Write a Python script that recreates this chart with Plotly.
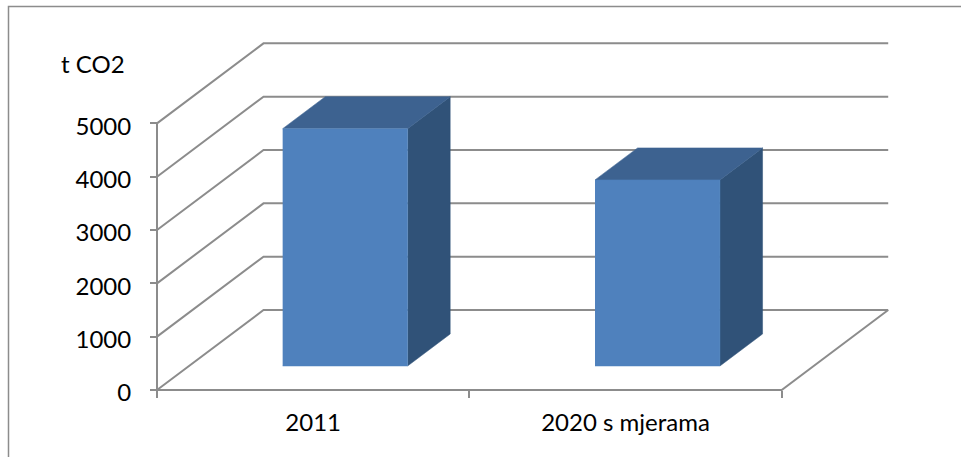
import plotly.graph_objects as go

categories = ["2011", "2020 s mjerama"]
values = [4450, 3490]
y_ticks = [0, 1000, 2000, 3000, 4000, 5000]
series_name = "t CO2"

# oblique projection of the depth axis, in data units
DEPTH_X = 0.341
DEPTH_Y = 1500
BAR_LO, BAR_HI = 0.3, 0.7     # bar extent within a category
DEP_LO, DEP_HI = 0.3, 0.7     # bar extent along depth

GRID = "#8c8c8c"
FRONT = "#4f81bd"
TOP = "#3d6290"
SIDE = "#305278"
FONT = "Lato"


def proj(c, v, d):
    return c + d * DEPTH_X, v + d * DEPTH_Y


def line(points):
    xs, ys = zip(*points)
    return go.Scatter(x=list(xs), y=list(ys), mode="lines", showlegend=False,
                      hoverinfo="skip", line=dict(color=GRID, width=2))


def face(points, colour):
    xs, ys = zip(*points)
    return go.Scatter(x=list(xs), y=list(ys), mode="lines", fill="toself", fillcolor=colour,
                      showlegend=False, hoverinfo="skip", line=dict(color=colour, width=0.5))


n = len(categories)
fig = go.Figure()

for t in y_ticks:
    fig.add_trace(line([proj(0, t, 0), proj(0, t, 1), proj(n, t, 1)]))
fig.add_trace(line([proj(n, 0, 1), proj(n, 0, 0), proj(0, 0, 0), proj(0, y_ticks[-1], 0)]))

for i, v in enumerate(values):
    a, b = i + BAR_LO, i + BAR_HI
    fig.add_trace(face([proj(b, 0, DEP_LO), proj(b, 0, DEP_HI), proj(b, v, DEP_HI), proj(b, v, DEP_LO)], SIDE))
    fig.add_trace(face([proj(a, v, DEP_LO), proj(a, v, DEP_HI), proj(b, v, DEP_HI), proj(b, v, DEP_LO)], TOP))
    fig.add_trace(face([proj(a, 0, DEP_LO), proj(b, 0, DEP_LO), proj(b, v, DEP_LO), proj(a, v, DEP_LO)], FRONT))

W, H = 961, 457
X0, UX = 157.0, 312.35
Y0, UY = 390.0, 53.33 / 1000

fig.update_layout(
    width=W, height=H, autosize=False,
    margin=dict(l=0, r=0, t=0, b=0),
    paper_bgcolor="white", plot_bgcolor="white",
    hovermode=False,
    font=dict(family=FONT, size=24, color="black"),
    xaxis=dict(
        domain=[0, 1], range=[-X0 / UX, (W - X0) / UX], anchor="free", position=(H - Y0) / H,
        showgrid=False, zeroline=False, showline=False,
        tickmode="array", tickvals=[i + 0.5 for i in range(n)], ticktext=categories, ticks="",
        ticklabelstandoff=16,
        minor=dict(tickmode="array", tickvals=list(range(n + 1)), ticks="outside",
                   ticklen=7, tickwidth=1.5, tickcolor=GRID),
    ),
    yaxis=dict(
        domain=[0, 1], range=[-(H - Y0) / UY, Y0 / UY], anchor="free", position=X0 / W,
        showgrid=False, zeroline=False, showline=False,
        tickmode="array", tickvals=y_ticks, ticktext=[str(t) for t in y_ticks],
        ticks="outside", ticklen=7, tickwidth=1.5, tickcolor=GRID,
        ticklabelstandoff=14, ticklabelshift=3,
    ),
    shapes=[dict(type="path", xref="paper", yref="paper",
                 path=f"M {8.5 / W} 0 L {8.5 / W} {1 - 6.5 / H} L 1 {1 - 6.5 / H}",
                 line=dict(color="#8c8c8c", width=1.5))],
    annotations=[dict(text=series_name, xref="paper", yref="paper",
                      x=59 / W, y=1 - 63 / H, xanchor="left", yanchor="middle",
                      showarrow=False, font=dict(family=FONT, size=24, color="black"))],
)

fig.write_html("out.html", config=dict(displayModeBar=False),
               post_script="document.documentElement.style.margin='0';document.body.style.margin='0';document.body.style.overflow='hidden';")
